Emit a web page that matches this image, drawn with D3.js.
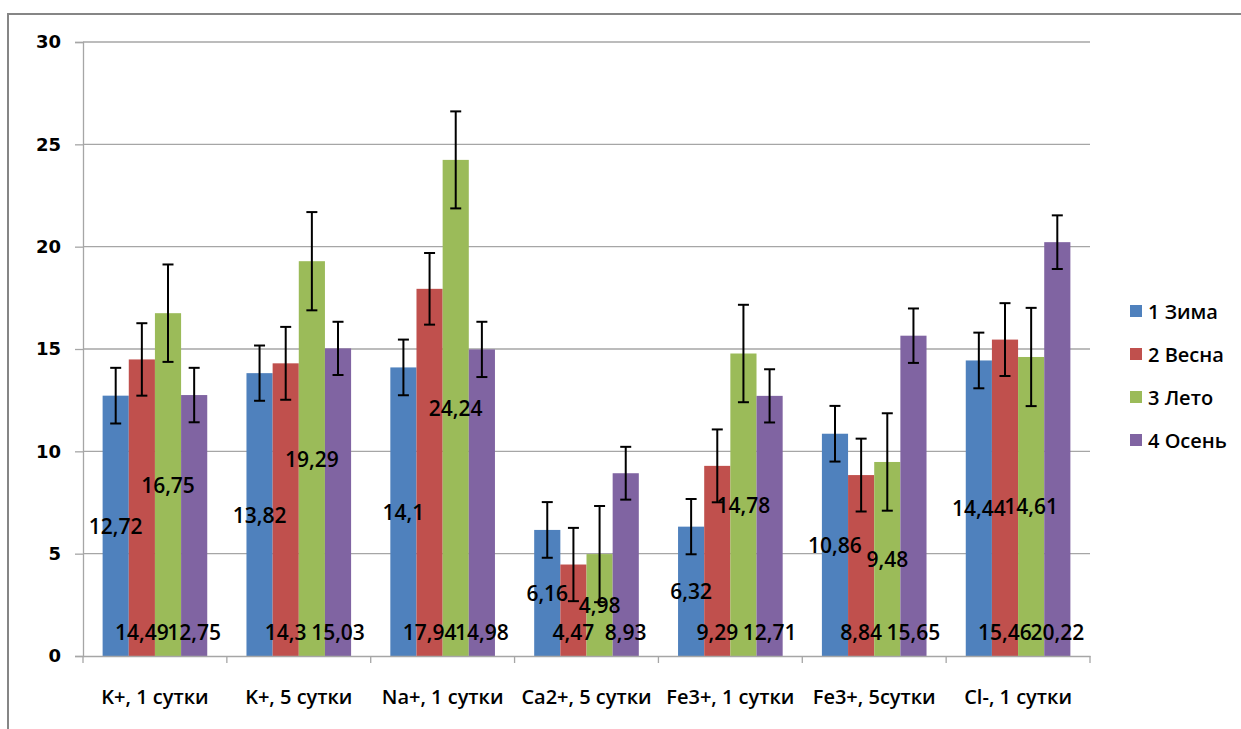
<!DOCTYPE html>
<html><head><meta charset="utf-8">
<script src="https://cdn.jsdelivr.net/npm/d3@7"></script>
<style>body{margin:0;background:#fff;} svg{display:block;}</style>
</head><body>
<svg id="chart" width="1241" height="729"></svg>
<script>
const categories = ["K+, 1 сутки","K+, 5 сутки","Na+, 1 сутки","Ca2+, 5 сутки","Fe3+, 1 сутки","Fe3+, 5сутки","Cl-, 1 сутки"];
const seriesNames = ["1 Зима","2 Весна","3 Лето","4 Осень"];
const zima  = [12.72, 13.82, 14.1, 6.16, 6.32, 10.86, 14.44];
const vesna = [14.49, 14.3, 17.94, 4.47, 9.29, 8.84, 15.46];
const leto  = [16.75, 19.29, 24.24, 4.98, 14.78, 9.48, 14.61];
const osen  = [12.75, 15.03, 14.98, 8.93, 12.71, 15.65, 20.22];
const errZima  = [1.36, 1.35, 1.36, 1.36, 1.35, 1.36, 1.36];
const errVesna = [1.77, 1.78, 1.75, 1.79, 1.78, 1.78, 1.78];
const errLeto  = [2.38, 2.40, 2.37, 2.35, 2.38, 2.38, 2.40];
const errOsen  = [1.33, 1.30, 1.35, 1.29, 1.30, 1.33, 1.31];
const yTicks = [0,5,10,15,20,25,30];
const colors = ["#4F81BD","#C0504D","#9BBB59","#8064A2"];

const values = [zima, vesna, leto, osen];
const errors = [errZima, errVesna, errLeto, errOsen];
const labelPos = ["center","base","center","base"];

(function(){
const svg = d3.select("#chart");
const pL = 83, pR = 1090, pT = 42, pB = 656;

svg.append("rect").attr("x",8).attr("y",14).attr("width",1260).attr("height",760)
  .attr("fill","none").attr("stroke","#868686").attr("stroke-width",2);

const y = d3.scaleLinear().domain([0,30]).range([pB, pT]);
const x0 = d3.scaleBand().domain(categories).range([pL, pR]).paddingInner(0).paddingOuter(0);
const groupW = x0.bandwidth() * 4 / 5.5;
const x1 = d3.scaleBand().domain(d3.range(4)).range([0, groupW]);

svg.append("g").selectAll("line").data(yTicks.filter(d=>d>0)).join("line")
  .attr("x1", pL).attr("x2", pR).attr("y1", d=>y(d)).attr("y2", d=>y(d))
  .attr("stroke","#a6a6a6").attr("stroke-width",1.3);

const yAxis = d3.axisLeft(y).tickValues(yTicks).tickSize(8).tickPadding(14).tickFormat(d3.format("d"));
const gy = svg.append("g").attr("transform",`translate(${pL},0)`).call(yAxis);
gy.select(".domain").attr("stroke","#a6a6a6").attr("stroke-width",1.3);
gy.selectAll(".tick line").attr("stroke","#a6a6a6").attr("stroke-width",1.3);
gy.selectAll("text").attr("font-family","DejaVu Sans").attr("font-weight","bold").attr("font-size",18).attr("fill","#000");

const bars = [];
values.forEach((arr, s) => arr.forEach((v, i) => bars.push({s, i, v, e: errors[s][i]})));
const bx = d => x0(categories[d.i]) + (x0.bandwidth()-groupW)/2 + x1(d.s);
svg.append("g").selectAll("rect").data(bars).join("rect")
  .attr("x", bx).attr("width", x1.bandwidth())
  .attr("y", d=>y(d.v)).attr("height", d=>y(0)-y(d.v))
  .attr("fill", d=>colors[d.s]);

const xAxis = d3.axisBottom(x0).tickSize(0).tickPadding(34);
const gx = svg.append("g").attr("transform",`translate(0,${pB})`).call(xAxis);
gx.select(".domain").attr("stroke","#a6a6a6").attr("stroke-width",1.3);
gx.selectAll("text").attr("font-family","Open Sans").attr("font-weight",600).attr("font-size",20).attr("fill","#000");
const bounds = categories.map(c=>x0(c)).concat([pR]);
svg.append("g").selectAll("line").data(bounds).join("line")
  .attr("x1",d=>d).attr("x2",d=>d).attr("y1",pB).attr("y2",pB+7)
  .attr("stroke","#a6a6a6").attr("stroke-width",1.3);

const cx = d => bx(d) + x1.bandwidth()/2;
const eg = svg.append("g").attr("stroke","#000").attr("stroke-width",2);
eg.selectAll("line.v").data(bars).join("line").attr("class","v")
  .attr("x1",cx).attr("x2",cx).attr("y1",d=>y(d.v+d.e)).attr("y2",d=>y(d.v-d.e));
eg.selectAll("line.t").data(bars).join("line").attr("class","t")
  .attr("x1",d=>cx(d)-5.5).attr("x2",d=>cx(d)+5.5).attr("y1",d=>y(d.v+d.e)).attr("y2",d=>y(d.v+d.e));
eg.selectAll("line.b").data(bars).join("line").attr("class","b")
  .attr("x1",d=>cx(d)-5.5).attr("x2",d=>cx(d)+5.5).attr("y1",d=>y(d.v-d.e)).attr("y2",d=>y(d.v-d.e));

const fmt = v => String(v).replace(".", ",");
svg.append("g").selectAll("text").data(bars).join("text")
  .attr("x", cx)
  .attr("y", d => labelPos[d.s]==="center" ? (y(d.v)+y(0))/2 : y(0)-24)
  .attr("text-anchor","middle").attr("dominant-baseline","central")
  .attr("font-family","Open Sans").attr("font-weight",600).attr("font-size",21).attr("fill","#000")
  .text(d=>fmt(d.v));

const lg = svg.append("g");
seriesNames.forEach((n, s) => {
  const yy = 311 + s*43;
  lg.append("rect").attr("x",1130).attr("y",yy-6).attr("width",12).attr("height",12).attr("fill",colors[s]);
  lg.append("text").attr("x",1148).attr("y",yy).attr("dominant-baseline","central")
    .attr("font-family","Open Sans").attr("font-weight",600).attr("font-size",20).attr("fill","#000").text(n);
});
})();
</script>
</body></html>
